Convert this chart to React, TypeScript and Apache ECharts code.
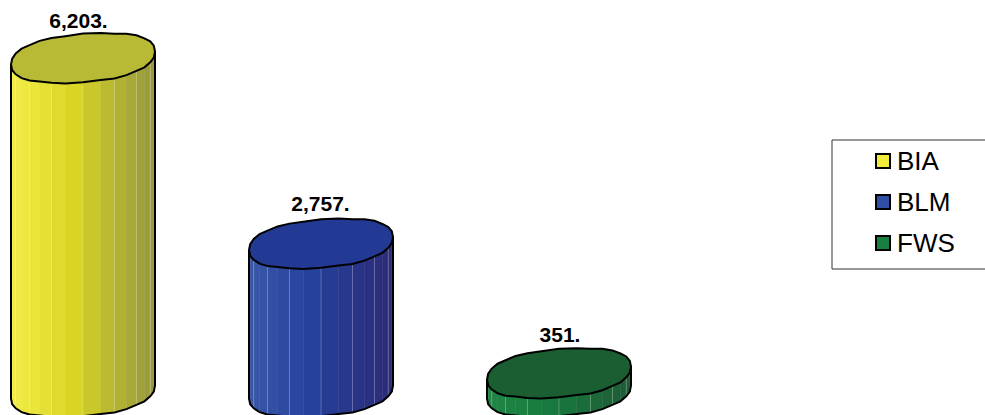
import React, { useEffect, useRef } from "react";
import * as echarts from "echarts";

const agencies = ["BIA", "BLM", "FWS"];
const acres = [6203, 2757, 351];
const capColors = ["#B8B935", "#233A94", "#1A5E32"];
const legendColors = ["#F2EC3A", "#2F4FA5", "#178040"];
// Left, centre and right shades of each cylinder wall
const wallShades = [
  ["#F3EE48", "#D7D424", "#94963F"],
  ["#3A57A8", "#24409A", "#2D2B76"],
  ["#1F8746", "#17793D", "#1F5A36"],
];
// Value label nudges for each cylinder
const labelShiftX = [-4.5, -0.5, 1];
const labelShiftY = [-38, -40, -39];

const HALF_WIDTH = 72;
const HALF_DEPTH = 23.8;
const TILT = 6.5;
const ROUNDNESS = 0.86;
// Small hand-set depth offsets that give the rim its faceted, slightly uneven edge
const rimUnevenness = [
  0.0, 0.5, -0.4, 0.6, -0.3, 0.5, 0.7, -0.2, 0.4, 0.8, 0.1, -0.5, 0.4, 0.6, -0.2, 0.0,
  0.5, -0.5, 0.3, 0.7, -0.3, 0.5, 0.2, -0.4, 0.6, 0.3, -0.5, 0.5, 0.6, -0.3, 0.4, 0.2,
];

const spow = (v: number, p: number) => Math.sign(v) * Math.pow(Math.abs(v), p);

// One point on the tilted rim; index 0 is the right end, indices grow clockwise on screen
const rim: [number, number][] = rimUnevenness.map((uneven, i) => {
  const t = (i * 2 * Math.PI) / rimUnevenness.length;
  const c = Math.cos(t);
  const s = Math.sin(t);
  return [
    HALF_WIDTH * spow(c, ROUNDNESS),
    (HALF_DEPTH + uneven) * spow(s, ROUNDNESS) - TILT * c,
  ];
});
const half = rimUnevenness.length / 2;
// Front half of the rim, running left to right along the lower edge
const frontRim = rim.slice(0, half + 1).reverse();

const channel = (hex: string, at: number) => parseInt(hex.slice(at, at + 2), 16);

function mixShade(stops: string[], f: number) {
  const [a, b, g] = f < 0.45 ? [stops[0], stops[1], f / 0.45] : [stops[1], stops[2], (f - 0.45) / 0.55];
  const out = [1, 3, 5].map((p) => Math.round(channel(a, p) + (channel(b, p) - channel(a, p)) * g));
  return `rgb(${out.join(",")})`;
}

function cylinder(seriesIdx: number) {
  return (_p: any, api: any) => {
    const cat = api.value(0);
    const val = api.value(1);
    const [cx, cy] = api.coord([cat, val]);
    const [, by] = api.coord([cat, 0]);
    const children: any[] = [];
    for (let i = 0; i < frontRim.length - 1; i++) {
      const a = frontRim[i];
      const b = frontRim[i + 1];
      const fill = mixShade(wallShades[seriesIdx], ((a[0] + b[0]) / 2 + HALF_WIDTH) / (2 * HALF_WIDTH));
      children.push({
        type: "polygon",
        shape: {
          points: [
            [cx + a[0], cy + a[1]],
            [cx + b[0], cy + b[1]],
            [cx + b[0], by + b[1]],
            [cx + a[0], by + a[1]],
          ],
        },
        style: { fill, stroke: fill, lineWidth: 0.5 },
      });
      if (i > 0 && i % 2 === 0) {
        children.push({
          type: "line",
          shape: { x1: cx + a[0], y1: cy + a[1], x2: cx + a[0], y2: by + a[1] },
          style: { stroke: "rgba(255,255,255,0.25)", lineWidth: 1 },
        });
      }
    }
    const first = frontRim[0];
    const last = frontRim[frontRim.length - 1];
    children.push({
      type: "polyline",
      shape: {
        points: [
          [cx + first[0], cy + first[1]],
          ...frontRim.map(([x, y]) => [cx + x, by + y]),
          [cx + last[0], cy + last[1]],
        ],
      },
      style: { fill: "none", stroke: "#000", lineWidth: 2 },
    });
    children.push({
      type: "polygon",
      shape: { points: rim.map(([x, y]) => [cx + x, cy + y]) },
      style: { fill: capColors[seriesIdx], stroke: "#000", lineWidth: 2 },
    });
    children.push({
      type: "text",
      x: cx + labelShiftX[seriesIdx],
      y: cy + labelShiftY[seriesIdx],
      style: {
        text: `${val.toLocaleString("en-US")}.`,
        fill: "#000",
        font: 'bold 21px "Liberation Sans", Arial, sans-serif',
        align: "center",
        verticalAlign: "middle",
      },
    });
    return { type: "group", children };
  };
}

export default function App() {
  const host = useRef<HTMLDivElement>(null);
  useEffect(() => {
    document.body.style.margin = "0";
    const chart = echarts.init(host.current!, null, { renderer: "svg" });
    chart.setOption({
      animation: false,
      backgroundColor: "#fff",
      grid: { left: 83, width: 476, top: 58, height: 334 },
      xAxis: { type: "category", data: agencies, boundaryGap: false, show: false },
      yAxis: { type: "value", min: 0, max: 6203, show: false },
      legend: {
        left: 832,
        top: 140,
        orient: "vertical",
        padding: [8, 60, 13, 43],
        itemGap: 15,
        itemWidth: 14,
        itemHeight: 14,
        icon: "rect",
        borderColor: "#333",
        borderWidth: 1,
        textStyle: {
          fontFamily: '"Liberation Sans", Arial, sans-serif',
          fontSize: 26,
          lineHeight: 26,
          color: "#000",
          padding: [0, 0, 0, 2],
        },
        data: agencies.map((name, i) => ({
          name,
          itemStyle: { color: legendColors[i], borderColor: "#000", borderWidth: 2 },
        })),
      },
      series: agencies.map((name, i) => ({
        type: "custom",
        name,
        clip: false,
        renderItem: cylinder(i),
        data: [[i, acres[i]]],
      })),
    });
    return () => chart.dispose();
  }, []);
  return <div ref={host} style={{ width: 985, height: 415 }} />;
}
